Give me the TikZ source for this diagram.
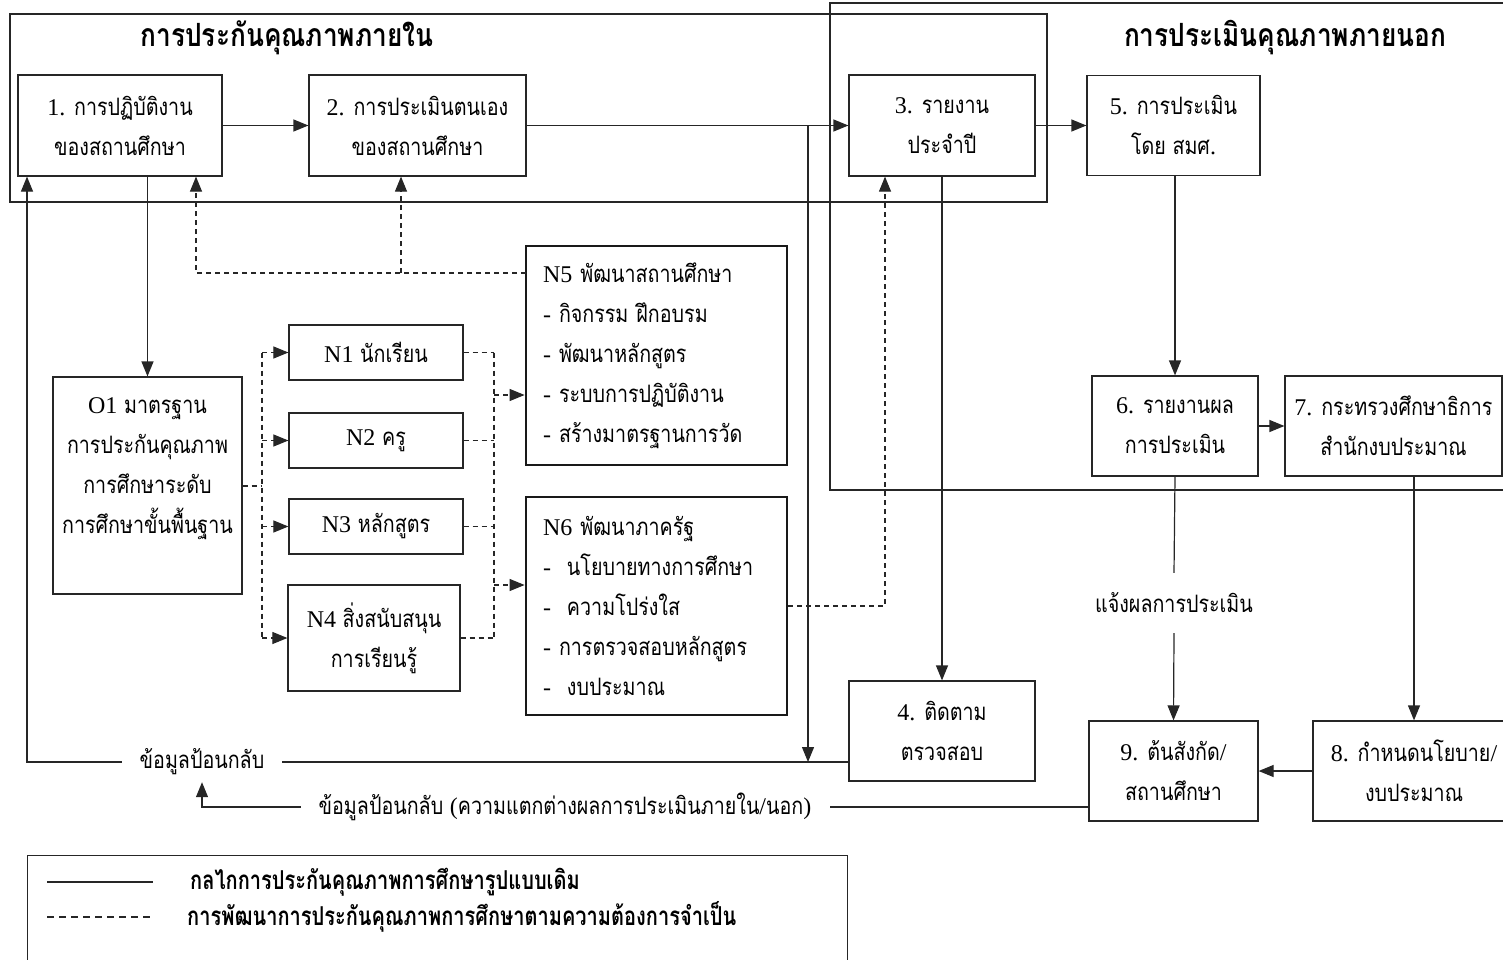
\documentclass[tikz,border=0pt]{standalone}
\usepackage{fontspec}
\usetikzlibrary{arrows.meta}
\setmainfont[Script=Thai,FakeStretch=0.82]{Loma}
\newfontfamily\lat{Liberation Serif}
\newfontfamily\legfont[Script=Thai,FakeStretch=0.77]{Loma}
\newcommand\la[1]{{\lat #1}}
\begin{document}
\begin{tikzpicture}[x=1pt,y=-1pt,
  ln/.style={line width=1.2pt, draw=black!85},
  dsh/.style={line width=1.1pt, draw=black!85, dash pattern=on 5pt off 4pt},
  arr/.style={-{Triangle[length=15pt,width=12pt]}},
  boxfont/.style={font=\fontsize{24}{40}\selectfont},
  bx/.style={ln, boxfont, align=center, inner sep=0pt},
  thk/.style={line width=2.8pt, draw=black!90, boxfont, align=left, inner sep=0pt},
  lab/.style={boxfont, inner sep=0pt},
  ttl/.style={font=\fontsize{32}{36}\selectfont\bfseries, inner sep=0pt},
  legtxt/.style={anchor=west, inner sep=0pt, font=\legfont\fontsize{26}{28}\selectfont\bfseries}
]
\useasboundingbox (0,0) rectangle (1503,960);
% frames
\draw[ln] (10,14) rectangle (1047,202);
\draw[ln] (830,3) rectangle (1520,490);
\node[ttl] (t1) at (287,38) {การประกันคุณภาพภายใน};
\node[ttl] (t2) at (1285,38) {การประเมินคุณภาพภายนอก};
% boxes
\node[bx, minimum width=204, minimum height=101] (b1) at (120,125.5) {\la{1.} การปฏิบัติงาน\\ของสถานศึกษา};
\node[bx, minimum width=217, minimum height=101] (b2) at (417.5,125.5) {\la{2.} การประเมินตนเอง\\ของสถานศึกษา};
\node[bx, minimum width=186, minimum height=101] (b3) at (942,125.5) {\la{3.} รายงาน\\ประจำปี};
\node[bx, minimum width=173, minimum height=100] (b5) at (1173.5,125.5) {\la{5.} การประเมิน\\โดย สมศ\la{.}};
\node[bx, minimum width=186, minimum height=100] (b4) at (942,731) {\la{4.} ติดตาม\\ตรวจสอบ};
\node[bx, minimum width=166, minimum height=100] (b6) at (1175,426) {\la{6.} รายงานผล\\การประเมิน};
\node[bx, minimum width=217, minimum height=100] (b7) at (1393.5,426) {\la{7.} กระทรวงศึกษาธิการ\\สำนักงบประมาณ};
\node[bx, minimum width=202, minimum height=100] (b8) at (1414,771) {\la{8.} กำหนดนโยบาย\la{/}\\งบประมาณ};
\node[bx, minimum width=169, minimum height=100] (b9) at (1173.5,771) {\la{9.} ต้นสังกัด\la{/}\\สถานศึกษา};
\node[bx, minimum width=189, minimum height=217] (o1) at (147.5,485.5) {\la{O1} มาตรฐาน\\การประกันคุณภาพ\\การศึกษาระดับ\\การศึกษาขั้นพื้นฐาน\\\mbox{}};
\node[bx, minimum width=174, minimum height=55] (n1) at (376,352.5) {\la{N1} นักเรียน};
\node[bx, minimum width=174, minimum height=55] (n2) at (376,440.5) {\la{N2} ครู};
\node[bx, minimum width=174, minimum height=55] (n3) at (376,526.5) {\la{N3} หลักสูตร};
\node[bx, minimum width=172, minimum height=106] (n4) at (374,638) {\la{N4} สิ่งสนับสนุน\\การเรียนรู้};
\node[thk, minimum width=261, minimum height=219, text width=227] (n5) at (656.5,355.5) {\la{N5} พัฒนาสถานศึกษา\\\la{- }กิจกรรม ฝึกอบรม\\\la{- }พัฒนาหลักสูตร\\\la{- }ระบบการปฏิบัติงาน\\\la{- }สร้างมาตรฐานการวัด};
\node[thk, minimum width=261, minimum height=218, text width=227] (n6) at (656.5,606) {\la{N6} พัฒนาภาครัฐ\\\la{-\ \ }นโยบายทางการศึกษา\\\la{-\ \ }ความโปร่งใส\\\la{- }การตรวจสอบหลักสูตร\\\la{-\ \ }งบประมาณ};
% labels
\node[lab, minimum height=40, inner xsep=18] (fb1) at (202,762) {ข้อมูลป้อนกลับ};
\node[lab, minimum height=40, inner xsep=18] (fb2) at (565,807) {ข้อมูลป้อนกลับ \la{(}ความแตกต่างผลการประเมินภายใน\la{/}นอก\la{)}};
\node[lab, minimum height=60] (lbl) at (1174,603) {แจ้งผลการประเมิน};
% coordinates
\coordinate (j1) at (808,125.5);
\coordinate (j2) at (808,762);
\coordinate (f0) at (849,762);
\coordinate (g0) at (1089,807);
\coordinate (c1) at (27,762);
\coordinate (c2) at (202,807);
\coordinate (tl) at (262,486);
\coordinate (tr) at (494,395);
\coordinate (tr2) at (494,585);
\coordinate (d1) at (196,273);
\coordinate (d2) at (401,273);
\coordinate (n5a) at (526,273);
\coordinate (d3) at (885,606);
% solid connectors
\draw[ln,arr] (b1) -- (b2);
\draw[ln,arr] (b2) -- (b3);
\draw[ln,arr] (b3) -- (b5);
\draw[ln,arr] (j1) -- (j2);
\draw[ln,arr] (b3) -- (b4);
\draw[ln] (f0) -- (fb1.east);
\draw[ln,arr] (fb1.west) -- (c1) -- (c1 |- b1.south);
\draw[ln,arr] (o1.north |- b1.south) -- (o1.north);
\draw[ln,arr] (b6.north |- b5.south) -- (b6.north);
\draw[ln,arr] (b6) -- (b7);
\draw[ln] (b6.south) -- (lbl.north);
\draw[ln,arr] (lbl.south) -- (b9.north);
\draw[ln,arr] (b8.north |- b7.south) -- (b8.north);
\draw[ln,arr] (b8) -- (b9);
\draw[ln] (g0) -- (fb2.east);
\draw[ln,arr] (fb2.west) -- (c2) -- (fb1.south);
% dashed connectors
\draw[dsh] (o1.east |- tl) -- (tl);
\draw[dsh] (tl |- n1.west) -- (tl |- n4.west);
\draw[dsh,arr] (tl |- n1.west) -- (n1.west);
\draw[dsh,arr] (tl |- n2.west) -- (n2.west);
\draw[dsh,arr] (tl |- n3.west) -- (n3.west);
\draw[dsh,arr] (tl |- n4.west) -- (n4.west);
\draw[dsh] (n1.east) -- (tr |- n1.east);
\draw[dsh] (n2.east) -- (tr |- n2.east);
\draw[dsh] (n3.east) -- (tr |- n3.east);
\draw[dsh] (n4.east) -- (tr |- n4.east);
\draw[dsh] (tr |- n1.east) -- (tr |- n4.east);
\draw[dsh,arr] (tr) -- (n5.west |- tr);
\draw[dsh,arr] (tr2) -- (n6.west |- tr2);
\draw[dsh,arr] (n5a) -- (d1) -- (d1 |- b1.south);
\draw[dsh,arr] (d2) -- (d2 |- b2.south);
\draw[dsh,arr] (n6.east |- d3) -- (d3) -- (d3 |- b3.south);
% legend
\node[ln, draw, minimum width=820, minimum height=120, anchor=north west, inner sep=0pt] (leg) at (27,855) {};
\coordinate (l1a) at (47,882);
\coordinate (l1b) at (153,882);
\coordinate (l2a) at (47,917);
\coordinate (l2b) at (152,917);
\draw[ln] (l1a) -- (l1b);
\draw[line width=1.2pt, draw=black!85, dash pattern=on 7pt off 5pt] (l2a) -- (l2b);
\node[legtxt] (lt1) at (190,882) {กลไกการประกันคุณภาพการศึกษารูปแบบเดิม};
\node[legtxt] (lt2) at (187,917) {การพัฒนาการประกันคุณภาพการศึกษาตามความต้องการจำเป็น};
\end{tikzpicture}
\end{document}
